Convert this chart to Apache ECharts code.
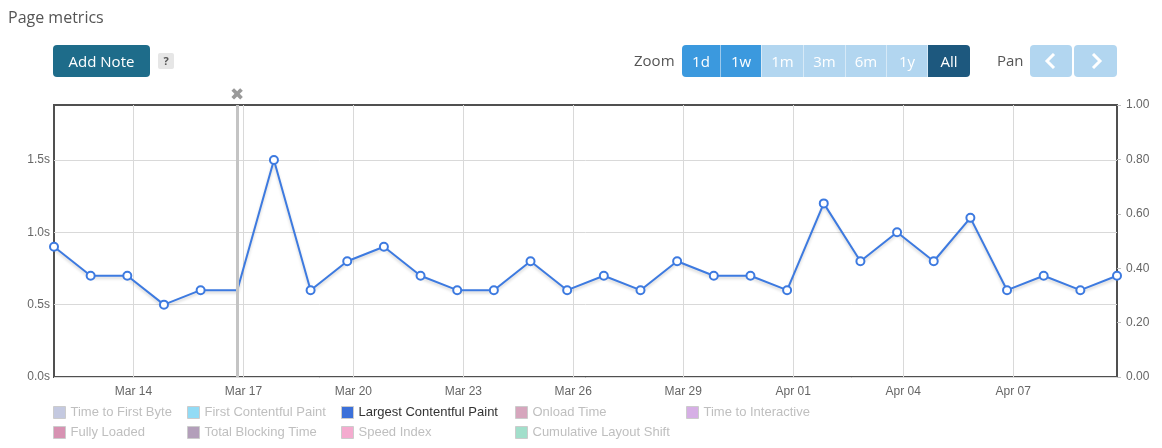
<!DOCTYPE html>
<html>
<head>
<meta charset="utf-8">
<script src="https://cdn.jsdelivr.net/npm/echarts@6/dist/echarts.min.js"></script>
<style>
  html, body { margin: 0; padding: 0; background: #fff; width: 1162px; height: 448px; overflow: hidden; }
  #chart { position: absolute; left: 0; top: 0; width: 1162px; height: 448px; }
  .ui { position: absolute; font-family: "Open Sans", "Noto Sans", sans-serif; }
  #title { left: 8px; top: 6px; font-size: 16px; color: #555; }
  #addNote { left: 53px; top: 45px; width: 97px; height: 32px; background: #1e6c8a; color: #fff; font-size: 15px;
             border-radius: 4px; line-height: 32px; text-align: center; }
  #help { left: 158px; top: 53px; width: 16px; height: 16px; background: #e6e6e6; color: #555; font-size: 11px; font-weight: bold;
          border-radius: 2px; line-height: 16px; text-align: center; }
  #zoomLbl { left: 634px; top: 50px; font-size: 15px; color: #555; }
  #panLbl { left: 997px; top: 50px; font-size: 15px; color: #555; }
  .btns { position: absolute; top: 45px; height: 32px; display: flex; }
  .btns div { height: 32px; line-height: 32px; text-align: center; color: #fff; font-size: 15px; font-family: "Open Sans", "Noto Sans", sans-serif; }
  .btns svg { display: block; margin: 8px auto 0 auto; }
  .b1 { background: #3b99de; }
  .b2 { background: #b2d6f0; }
  .b3 { background: #1d587e; }
</style>
</head>
<body>
<div id="chart"></div>
<div class="ui" id="title">Page metrics</div>
<div class="ui" id="addNote">Add Note</div>
<div class="ui" id="help">?</div>
<div class="ui" id="zoomLbl">Zoom</div>
<div class="btns" style="left:682px;">
  <div class="b1" style="width:38px;border-radius:4px 0 0 4px;border-right:1px solid #9cc9ec;">1d</div>
  <div class="b1" style="width:40px;border-right:1px solid #d6e9f7;">1w</div>
  <div class="b2" style="width:41px;border-right:1px solid #d6e9f7;">1m</div>
  <div class="b2" style="width:41px;border-right:1px solid #d6e9f7;">3m</div>
  <div class="b2" style="width:40px;border-right:1px solid #d6e9f7;">6m</div>
  <div class="b2" style="width:40px;border-right:1px solid #d6e9f7;">1y</div>
  <div class="b3" style="width:42px;border-radius:0 4px 4px 0;">All</div>
</div>
<div class="ui" id="panLbl">Pan</div>
<div class="btns" style="left:1030px;">
  <div class="b2" style="width:42px;border-radius:4px;margin-right:2px;">
    <svg width="16" height="16" viewBox="0 0 16 16"><polyline points="11,1 4,8 11,15" fill="none" stroke="#fff" stroke-width="3"/></svg>
  </div>
  <div class="b2" style="width:43px;border-radius:4px;">
    <svg width="16" height="16" viewBox="0 0 16 16"><polyline points="5,1 12,8 5,15" fill="none" stroke="#fff" stroke-width="3"/></svg>
  </div>
</div>
<script>
// ---- data ----
const dates = [
  '2024-03-11','2024-03-12','2024-03-13','2024-03-14','2024-03-15','2024-03-16','2024-03-17','2024-03-18',
  '2024-03-19','2024-03-20','2024-03-21','2024-03-22','2024-03-23','2024-03-24','2024-03-25','2024-03-26',
  '2024-03-27','2024-03-28','2024-03-29','2024-03-30','2024-03-31','2024-04-01','2024-04-02','2024-04-03',
  '2024-04-04','2024-04-05','2024-04-06','2024-04-07','2024-04-08','2024-04-09'
];
const sampleTime = '20:00:00';
const lcpSeconds = [
  0.9, 0.7, 0.7, 0.5, 0.6, 0.6, 1.5, 0.6,
  0.8, 0.9, 0.7, 0.6, 0.6, 0.8, 0.6, 0.7,
  0.6, 0.8, 0.7, 0.7, 0.6, 1.2, 0.8, 1.0,
  0.8, 1.1, 0.6, 0.7, 0.6, 0.7
];
const noteDate = '2024-03-16';
const xTickDates = ['2024-03-14','2024-03-17','2024-03-20','2024-03-23','2024-03-26','2024-03-29','2024-04-01','2024-04-04','2024-04-07'];
const leftTicks = [0, 0.5, 1.0, 1.5];
const leftMax = 1.88;
const rightTicks = [0, 0.2, 0.4, 0.6, 0.8, 1.0];
const legendColumns = [
  ['Time to First Byte', 'Fully Loaded'],
  ['First Contentful Paint', 'Total Blocking Time'],
  ['Largest Contentful Paint', 'Speed Index'],
  ['Onload Time', 'Cumulative Layout Shift'],
  ['Time to Interactive']
];
const seriesColors = {
  'Time to First Byte': '#c4c9e0',
  'First Contentful Paint': '#92dbf5',
  'Largest Contentful Paint': '#3b70d9',
  'Onload Time': '#d6a6bd',
  'Time to Interactive': '#d6afe5',
  'Fully Loaded': '#d792b2',
  'Total Blocking Time': '#b39fba',
  'Speed Index': '#f4abcf',
  'Cumulative Layout Shift': '#a2dfcb'
};
const activeSeries = 'Largest Contentful Paint';

// ---- helpers ----
const MONTHS = ['Jan','Feb','Mar','Apr','May','Jun','Jul','Aug','Sep','Oct','Nov','Dec'];
const toMs = (d, t) => new Date(d + 'T' + (t || '00:00:00') + 'Z').getTime();
const fmtDate = v => { const d = new Date(v); return MONTHS[d.getUTCMonth()] + ' ' + String(d.getUTCDate()).padStart(2, '0'); };

const lcpData = dates.map((d, i) => {
  const item = { value: [toMs(d, sampleTime), lcpSeconds[i]] };
  if (d === noteDate) item.symbol = 'none';
  return item;
});
const xMin = toMs(dates[0], sampleTime);
const xMax = toMs(dates[dates.length - 1], sampleTime);
const xTicks = xTickDates.map(d => toMs(d));

const font = '"Liberation Sans", Arial, sans-serif';

const legends = legendColumns.map((col, ci) => ({
  orient: 'vertical',
  left: [53, 187, 341, 515, 686][ci],
  top: 406,
  itemWidth: 12,
  itemHeight: 12,
  itemGap: 7,
  selectedMode: false,
  padding: 0,
  textStyle: { fontFamily: font, fontSize: 13 },
  data: col.map(name => ({
    name,
    icon: 'rect',
    itemStyle: { color: seriesColors[name], borderColor: '#cccccc', borderWidth: 1 },
    textStyle: { color: name === activeSeries ? '#333333' : '#bfbfbf', fontFamily: font, fontSize: 13 }
  }))
}));

const series = Object.keys(seriesColors).map(name => {
  if (name !== activeSeries) {
    return { name, type: 'line', data: [], color: seriesColors[name] };
  }
  return {
    name, type: 'line', data: lcpData, color: seriesColors[name],
    symbol: 'circle', symbolSize: 8, showSymbol: true,
    itemStyle: { color: '#ffffff', borderColor: '#3d7ae0', borderWidth: 2 },
    lineStyle: { color: '#3d7ae0', width: 2, shadowColor: 'rgba(0,0,0,0.18)', shadowBlur: 3, shadowOffsetY: 2 },
    z: 3
  };
});
series.push({
  type: 'line', data: [], z: 10, silent: true,
  markLine: {
    silent: true, symbol: ['none', 'none'], animation: false,
    lineStyle: { color: '#c4c4c4', width: 3, type: 'solid' },
    label: { show: true, position: 'end', formatter: '\u2716', color: '#9a9a9a', fontSize: 17, distance: 1 },
    data: [{ xAxis: toMs(noteDate, sampleTime) }]
  }
});

const chart = echarts.init(document.getElementById('chart'), null, { renderer: 'canvas' });
chart.setOption({
  animation: false,
  textStyle: { fontFamily: font },
  grid: { left: 54, right: 45, top: 105, bottom: 71, show: true, borderColor: '#505050', borderWidth: 2, backgroundColor: 'transparent' },
  legend: legends,
  xAxis: {
    type: 'value', min: xMin, max: xMax,
    axisLine: { show: false },
    axisTick: { show: false, customValues: xTicks },
    axisLabel: { customValues: xTicks, formatter: fmtDate, color: '#666', fontSize: 12, margin: 9, fontFamily: font },
    splitLine: { show: true, lineStyle: { color: '#d9d9d9', width: 1 } }
  },
  yAxis: [
    {
      type: 'value', min: 0, max: leftMax, position: 'left',
      axisLine: { show: false },
      axisTick: { show: false, customValues: leftTicks },
      axisLabel: { customValues: leftTicks, formatter: v => v.toFixed(1) + 's', color: '#666', fontSize: 12, margin: 4, fontFamily: font },
      splitLine: { show: true, lineStyle: { color: '#d9d9d9', width: 1 } }
    },
    {
      type: 'value', min: 0, max: 1, position: 'right',
      axisLine: { show: false },
      axisTick: { show: true, length: 4, customValues: rightTicks, lineStyle: { color: '#c0c0c0' } },
      axisLabel: { customValues: rightTicks, formatter: v => v.toFixed(2), color: '#666', fontSize: 12, margin: 9, fontFamily: font },
      splitLine: { show: false }
    }
  ],
  series
});
</script>
</body>
</html>
